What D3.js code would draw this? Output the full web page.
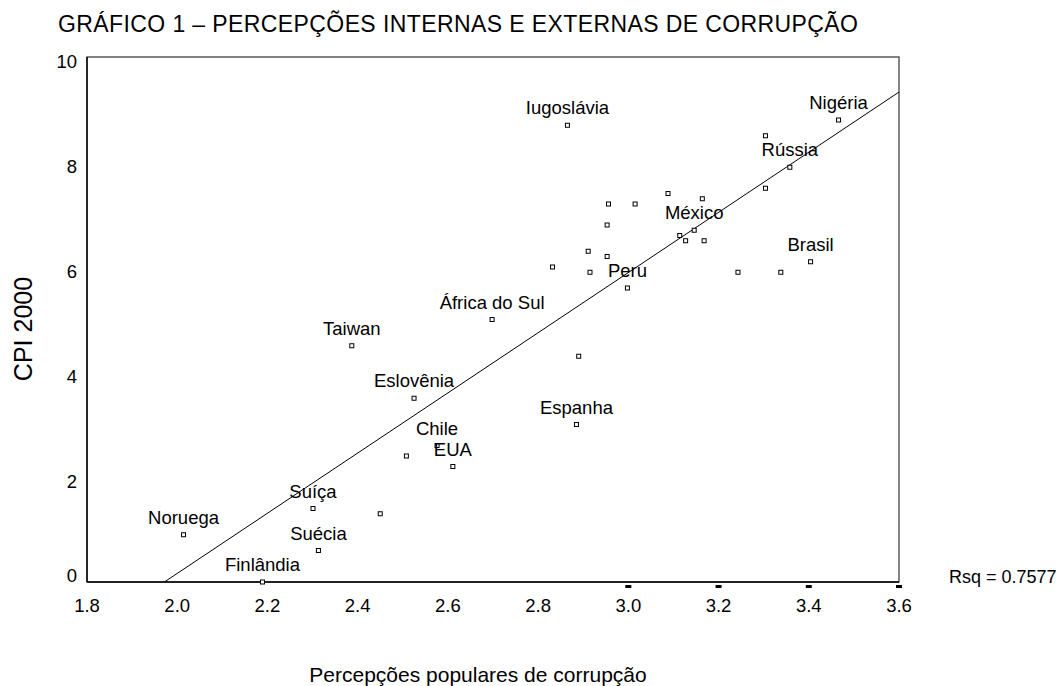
<!DOCTYPE html>
<html><head><meta charset="utf-8">
<script src="https://cdn.jsdelivr.net/npm/d3@7"></script>
<style>
body{margin:0;background:#fff;}
text{font-family:"Liberation Sans",Arial,sans-serif;fill:#000;}
</style></head>
<body>
<svg id="chart" width="1060" height="686"></svg>
<script>
// ---- data ----
const countries = ["Iugoslávia","Nigéria","Rússia","México","Brasil","Peru","África do Sul","Taiwan","Eslovênia","Espanha","Chile","EUA","Suíça","Suécia","Noruega","Finlândia",
  "","","","","","","","","","","","","","","","","","",""];
const popular = [2.865,3.466,3.358,3.146,3.404,2.998,2.698,2.387,2.525,2.885,2.576,2.611,2.301,2.313,2.014,2.189,
  3.304,3.088,3.164,2.956,3.015,2.953,3.114,3.127,3.168,2.911,2.953,2.832,2.915,3.304,3.243,3.338,2.508,2.890,2.450];
const cpi2000 = [8.7,8.8,7.9,6.7,6.1,5.6,5.0,4.5,3.5,3.0,2.6,2.2,1.4,0.6,0.9,0.0,
  8.5,7.4,7.3,7.2,7.2,6.8,6.6,6.5,6.5,6.3,6.2,6.0,5.9,7.5,5.9,5.9,2.4,4.3,1.3];
const xTicks = [1.8,2.0,2.2,2.4,2.6,2.8,3.0,3.2,3.4,3.6];
const yTicks = [0,2,4,6,8,10];
const markedTicks = [3.0,3.2,3.4,3.6];
const titleText = "GRÁFICO 1 – PERCEPÇÕES INTERNAS E EXTERNAS DE CORRUPÇÃO";
const xTitle = "Percepções populares de corrupção";
const yTitle = "CPI 2000";
const rsqText = "Rsq = 0.7577";

const pts = countries.map((c,i)=>({name:c,x:popular[i],y:cpi2000[i]}));

const svg = d3.select("#chart");
const x = d3.scaleLinear().domain([1.8,3.6]).range([87,899]);
const y = d3.scaleLinear().domain([0,10]).range([582,57]);

// title
svg.append("text").attr("x",58).attr("y",32).attr("font-size",23)
  .attr("textLength",800).attr("lengthAdjust","spacing").text(titleText);

// clip
svg.append("clipPath").attr("id","clip").append("rect")
  .attr("x",x(1.8)).attr("y",y(10)).attr("width",x(3.6)-x(1.8)).attr("height",y(0)-y(10));

// frame
svg.append("rect").attr("x",x(1.8)).attr("y",y(10)).attr("width",x(3.6)-x(1.8)).attr("height",y(0)-y(10))
  .attr("fill","none").attr("stroke","#333").attr("stroke-width",1.2);
svg.append("line").attr("x1",x(1.8)).attr("x2",x(3.6)).attr("y1",y(0)).attr("y2",y(0)).attr("stroke","#000").attr("stroke-width",1.4);
svg.append("line").attr("x1",x(1.8)).attr("x2",x(1.8)).attr("y1",y(0)).attr("y2",y(10)).attr("stroke","#000").attr("stroke-width",1.4);

// x tick labels
svg.append("g").selectAll("text").data(xTicks).join("text")
  .attr("x",d=>x(d)).attr("y",612).attr("text-anchor","middle").attr("font-size",18.5)
  .text(d=>d3.format(".1f")(d));
// small black tick marks
svg.append("g").selectAll("rect").data(markedTicks).join("rect")
  .attr("x",d=>x(d)-3).attr("y",585).attr("width",6).attr("height",3).attr("fill","#000");

// y tick labels
svg.append("g").selectAll("text").data(yTicks).join("text")
  .attr("x",77).attr("y",d=> d===0 ? y(d)-0.5 : y(d)+10.5).attr("text-anchor","end").attr("font-size",18.5)
  .text(d=>d);

// axis titles
svg.append("text").attr("x",478).attr("y",682).attr("text-anchor","middle").attr("font-size",21).text(xTitle);
svg.append("text").attr("transform","translate(32,329) rotate(-90)").attr("text-anchor","middle").attr("font-size",25).text(yTitle);

// regression line from data
const mx = d3.mean(pts,d=>d.x), my = d3.mean(pts,d=>d.y);
const b = d3.sum(pts,d=>(d.x-mx)*(d.y-my))/d3.sum(pts,d=>(d.x-mx)**2);
const a = my - b*mx;
const x0 = Math.max(1.8,(0-a)/b);
svg.append("line").attr("clip-path","url(#clip)")
  .attr("x1",x(x0)).attr("y1",y(a+b*x0)).attr("x2",x(3.6)).attr("y2",y(a+b*3.6))
  .attr("stroke","#000").attr("stroke-width",1);

// points
svg.append("g").selectAll("rect").data(pts).join("rect")
  .attr("x",d=>x(d.x)-2).attr("y",d=>y(d.y)-2).attr("width",4).attr("height",4)
  .attr("fill","#fff").attr("stroke","#000").attr("stroke-width",1);

// labels
svg.append("g").selectAll("text").data(pts.filter(d=>d.name)).join("text")
  .attr("x",d=>x(d.x)).attr("y",d=>y(d.y)-11).attr("text-anchor","middle").attr("font-size",18.5)
  .text(d=>d.name);

// Rsq
svg.append("text").attr("x",949).attr("y",583).attr("font-size",18).text(rsqText);
</script>
</body></html>
